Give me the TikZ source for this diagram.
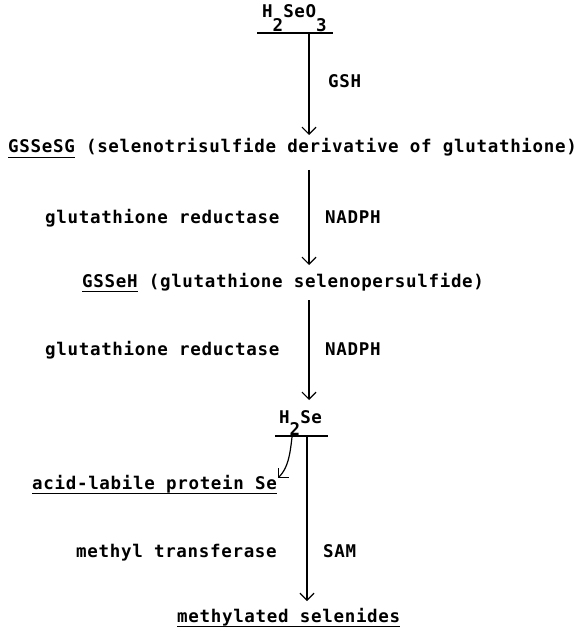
\documentclass[tikz,border=0pt]{standalone}
\usepackage{fontspec}
\usetikzlibrary{arrows.meta}
\newfontfamily\chemfont[LetterSpace=3.9]{DejaVu Sans Mono Bold}
\newcommand{\lowsub}[2][13pt]{\raisebox{-#1}{#2}}
\newcommand{\chemul}[1]{\setbox0\hbox{#1}\rlap{\rule[-5pt]{\wd0}{1.2pt}}#1}

\begin{document}
\begin{tikzpicture}[
    x = 1pt,
    y = -1pt,
    chem/.style = {font=\chemfont\fontsize{17.5}{19}\selectfont,
      inner sep=0pt, anchor=base west},
    arr/.style = {-{Straight Barb[length=7pt, width=14pt]}, line width=1.2pt},
    bar/.style = {line width=1.2pt},
    ]
    \useasboundingbox (0,0) rectangle (579,631);
    % selenite
    \node[chem] (selenite) at (262,18) {H\lowsub[14pt]{2}SeO\lowsub[14pt]{3}};
    \coordinate (selbarw) at (257,33);
    \coordinate (selbare) at (333,33);
    \draw[bar] (selbarw) -- (selbare);
    % step 1
    \coordinate (a1top) at (309,33);
    \coordinate (a1tip) at (309,135);
    \draw[arr] (a1top) -- (a1tip);
    \node[chem] (gsh) at (328,88) {GSH};
    \node[chem] (gssesg) at (8,153)
    {\chemul{GSSeSG} (selenotrisulfide derivative of glutathione)};
    % step 2
    \coordinate (a2top) at (309,170);
    \coordinate (a2tip) at (309,265);
    \draw[arr] (a2top) -- (a2tip);
    \node[chem] (gred1) at (45,223) {glutathione reductase};
    \node[chem] (nadph1) at (325,223) {NADPH};
    \node[chem] (gsseh) at (82,287)
    {\chemul{GSSeH} (glutathione selenopersulfide)};
    % step 3
    \coordinate (a3top) at (309,300);
    \coordinate (a3tip) at (309,400);
    \draw[arr] (a3top) -- (a3tip);
    \node[chem] (gred2) at (45,355) {glutathione reductase};
    \node[chem] (nadph2) at (325,355) {NADPH};
    \node[chem] (hse) at (279,423) {H\lowsub[12pt]{2}Se};
    \coordinate (hsebarw) at (275,436);
    \coordinate (hsebare) at (328,436);
    \draw[bar] (hsebarw) -- (hsebare);
    % side branch
    \coordinate (sidetop) at (292,437);
    \coordinate (sidetip) at (278,478);
    \draw[arr] (sidetop) .. controls (290,455) and (288,468) .. (sidetip);
    \node[chem] (protse) at (32,489) {\chemul{acid-labile protein Se}};
    % step 4
    \coordinate (a4top) at (307,436);
    \coordinate (a4tip) at (307,601);
    \draw[arr] (a4top) -- (a4tip);
    \node[chem] (mtrans) at (76,557) {methyl transferase};
    \node[chem] (sam) at (323,557) {SAM};
    \node[chem] (mesel) at (177,622) {\chemul{methylated selenides}};
\end{tikzpicture}
\end{document}
